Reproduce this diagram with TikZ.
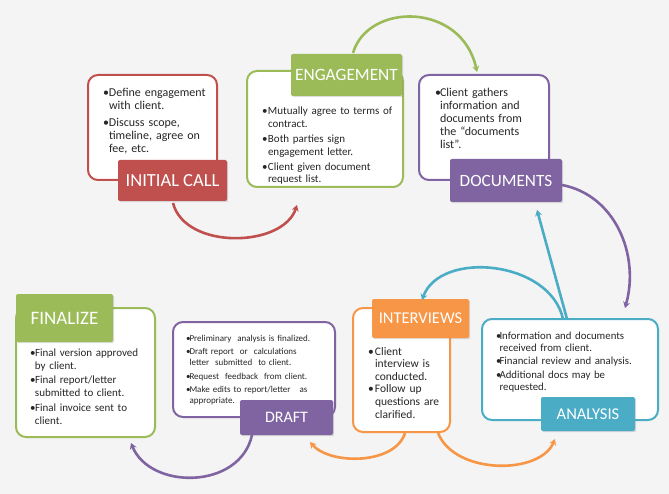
\documentclass[tikz,border=0pt]{standalone}
\usepackage{fontspec}
\setmainfont{Carlito}
\usetikzlibrary{arrows.meta,shadows}
\definecolor{cred}{HTML}{C0504D}
\definecolor{cgreen}{HTML}{9BBB59}
\definecolor{cpurple}{HTML}{8064A2}
\definecolor{corange}{HTML}{F79646}
\definecolor{cteal}{HTML}{4BACC6}
\definecolor{bgc}{HTML}{F4F4F4}
\newcommand{\bitem}[2]{\hangindent=#1\hangafter=1\makebox[#1][l]{\textbullet}#2\par}
\newcommand{\nl}{\hfil\break}
\tikzset{
  outerbox/.style={draw=#1, line width=2pt, rounded corners=10pt, fill=white, inner sep=0pt, outer sep=0pt},
  labelbox/.style={fill=#1, rounded corners=2pt, inner sep=0pt, outer sep=0pt, text=white,
     drop shadow={opacity=0.25, shadow xshift=1.2pt, shadow yshift=-1.2pt}},
  bodytext/.style={anchor=base west, inner sep=0pt, outer sep=0pt, text width=220pt, align=left, text=black!85},
  flow/.style={draw=#1, line width=2.6pt, -{Stealth[length=6pt,width=7pt]}},
}
\begin{document}
\begin{tikzpicture}[x=1pt,y=-1pt]
\fill[bgc] (0,0) rectangle (669,494);
\useasboundingbox (0,0) rectangle (669,494);

% ---------- outer boxes ----------
\node[outerbox=cred, minimum width=129pt, minimum height=105pt] (icbox) at (152.5,127.5) {};
\node[outerbox=cgreen, minimum width=156pt, minimum height=116pt] (engbox) at (325,129) {};
\node[outerbox=cpurple, minimum width=130pt, minimum height=105pt] (docbox) at (484,127.5) {};
\node[outerbox=cgreen, minimum width=139pt, minimum height=129pt] (finbox) at (85.5,372.5) {};
\node[outerbox=cpurple, minimum width=162pt, minimum height=95pt] (drbox) at (254,369.5) {};
\node[outerbox=corange, minimum width=97pt, minimum height=124pt] (intbox) at (401.5,370) {};
\node[outerbox=cteal, minimum width=176pt, minimum height=101pt] (anbox) at (570,369.5) {};

% ---------- labels ----------
\node[labelbox=cred, minimum width=109pt, minimum height=41pt, font=\fontsize{18.5}{20}\selectfont] (iclab) at (172.5,180.5) {INITIAL CALL};
\node[labelbox=cgreen, minimum width=111pt, minimum height=42pt, font=\fontsize{17.3}{20}\selectfont] (englab) at (346.5,75) {ENGAGEMENT};
\node[labelbox=cpurple, minimum width=112pt, minimum height=43pt, font=\fontsize{17.2}{20}\selectfont] (doclab) at (506,180.5) {DOCUMENTS};
\node[labelbox=cgreen, minimum width=97pt, minimum height=48pt, font=\fontsize{19}{21}\selectfont] (finlab) at (64.5,318) {FINALIZE};
\node[labelbox=cpurple, minimum width=93pt, minimum height=35pt, font=\fontsize{16}{19}\selectfont] (drlab) at (286.5,417.5) {DRAFT};
\node[labelbox=corange, minimum width=97pt, minimum height=39pt, font=\fontsize{16.5}{19}\selectfont] (intlab) at (420.5,318.5) {INTERVIEWS};
\node[labelbox=cteal, minimum width=94pt, minimum height=34pt, font=\fontsize{16.5}{19}\selectfont] (anlab) at (588,414) {ANALYSIS};

% ---------- body texts ----------
\node[bodytext, font=\fontsize{12}{13}\selectfont] (ictext) at (103,97)
  {\setlength\parskip{4pt}\bitem{6pt}{Define engagement\nl with client.}\bitem{6pt}{Discuss scope,\nl timeline, agree on\nl fee, etc.}};
\node[bodytext, font=\fontsize{11}{12.6}\selectfont] (engtext) at (262,115)
  {\setlength\parskip{2.5pt}\bitem{6pt}{Mutually agree to terms of\nl contract.}\bitem{6pt}{Both parties sign\nl engagement letter.}\bitem{6pt}{Client given document\nl request list.}};
\node[bodytext, font=\fontsize{12}{13}\selectfont] (doctext) at (435,97)
  {\bitem{5pt}{Client gathers\nl information and\nl documents from\nl the “documents\nl list”.}};
\node[bodytext, font=\fontsize{11}{13}\selectfont] (fintext) at (30,356)
  {\setlength\parskip{1.5pt}\bitem{5pt}{Final version approved\nl by client.}\bitem{5pt}{Final report/letter\nl submitted to client.}\bitem{5pt}{Final invoice sent to\nl client.}};
\node[bodytext, font=\fontsize{9}{11.2}\selectfont] (drtext) at (186,341)
  {\setlength\parskip{2.2pt}\bitem{3.5pt}{Preliminary\ \ analysis is finalized.}\bitem{3.5pt}{Draft report\ \ or\ \ calculations\nl letter\ \ submitted\ \ to client.}\bitem{3.5pt}{Request\ \ feedback\ \ from client.}\bitem{3.5pt}{Make edits to report/letter\ \ \ as\nl appropriate.}};
\node[bodytext, font=\fontsize{11.5}{12.6}\selectfont] (inttext) at (368,355)
  {\bitem{7pt}{Client\nl interview is\nl conducted.}\bitem{7pt}{Follow up\nl questions are\nl clarified.}};
\node[bodytext, font=\fontsize{10.8}{12.5}\selectfont] (antext) at (496,339)
  {\setlength\parskip{0.8pt}\bitem{3.5pt}{Information and documents\nl received from client.}\bitem{3.5pt}{Financial review and analysis.}\bitem{3.5pt}{Additional docs may be\nl requested.}};

% ---------- connector end points ----------
\coordinate (r1) at (173,203);  \coordinate (r2) at (297,205);
\coordinate (g1) at (353,53);   \coordinate (g2) at (477,72);
\coordinate (p1) at (562,185);  \coordinate (p2) at (625,308);
\coordinate (t1) at (567,319);  \coordinate (t2) at (537,210);
\coordinate (t3) at (563,319);  \coordinate (t4) at (422,300);
\coordinate (o1) at (405,433);  \coordinate (o2) at (310,442);
\coordinate (o3) at (438,433);  \coordinate (o4) at (555,439);
\coordinate (q1) at (252,435);  \coordinate (q2) at (131,443);

% ---------- connectors ----------
\draw[flow=cred] (r1) .. controls (185,250) and (283,248) .. (r2);
\draw[flow=cgreen] (g1) .. controls (368,2) and (462,2) .. (g2);
\draw[flow=cpurple] (p1) .. controls (615,195) and (640,255) .. (p2);
\draw[flow=cteal] (t1) -- (t2);
\draw[flow=cteal] (t3) .. controls (550,260) and (440,250) .. (t4);
\draw[flow=corange] (o1) .. controls (395,465) and (330,465) .. (o2);
\draw[flow=corange] (o3) .. controls (455,475) and (540,475) .. (o4);
\draw[flow=cpurple] (q1) .. controls (240,490) and (150,490) .. (q2);
\end{tikzpicture}
\end{document}
